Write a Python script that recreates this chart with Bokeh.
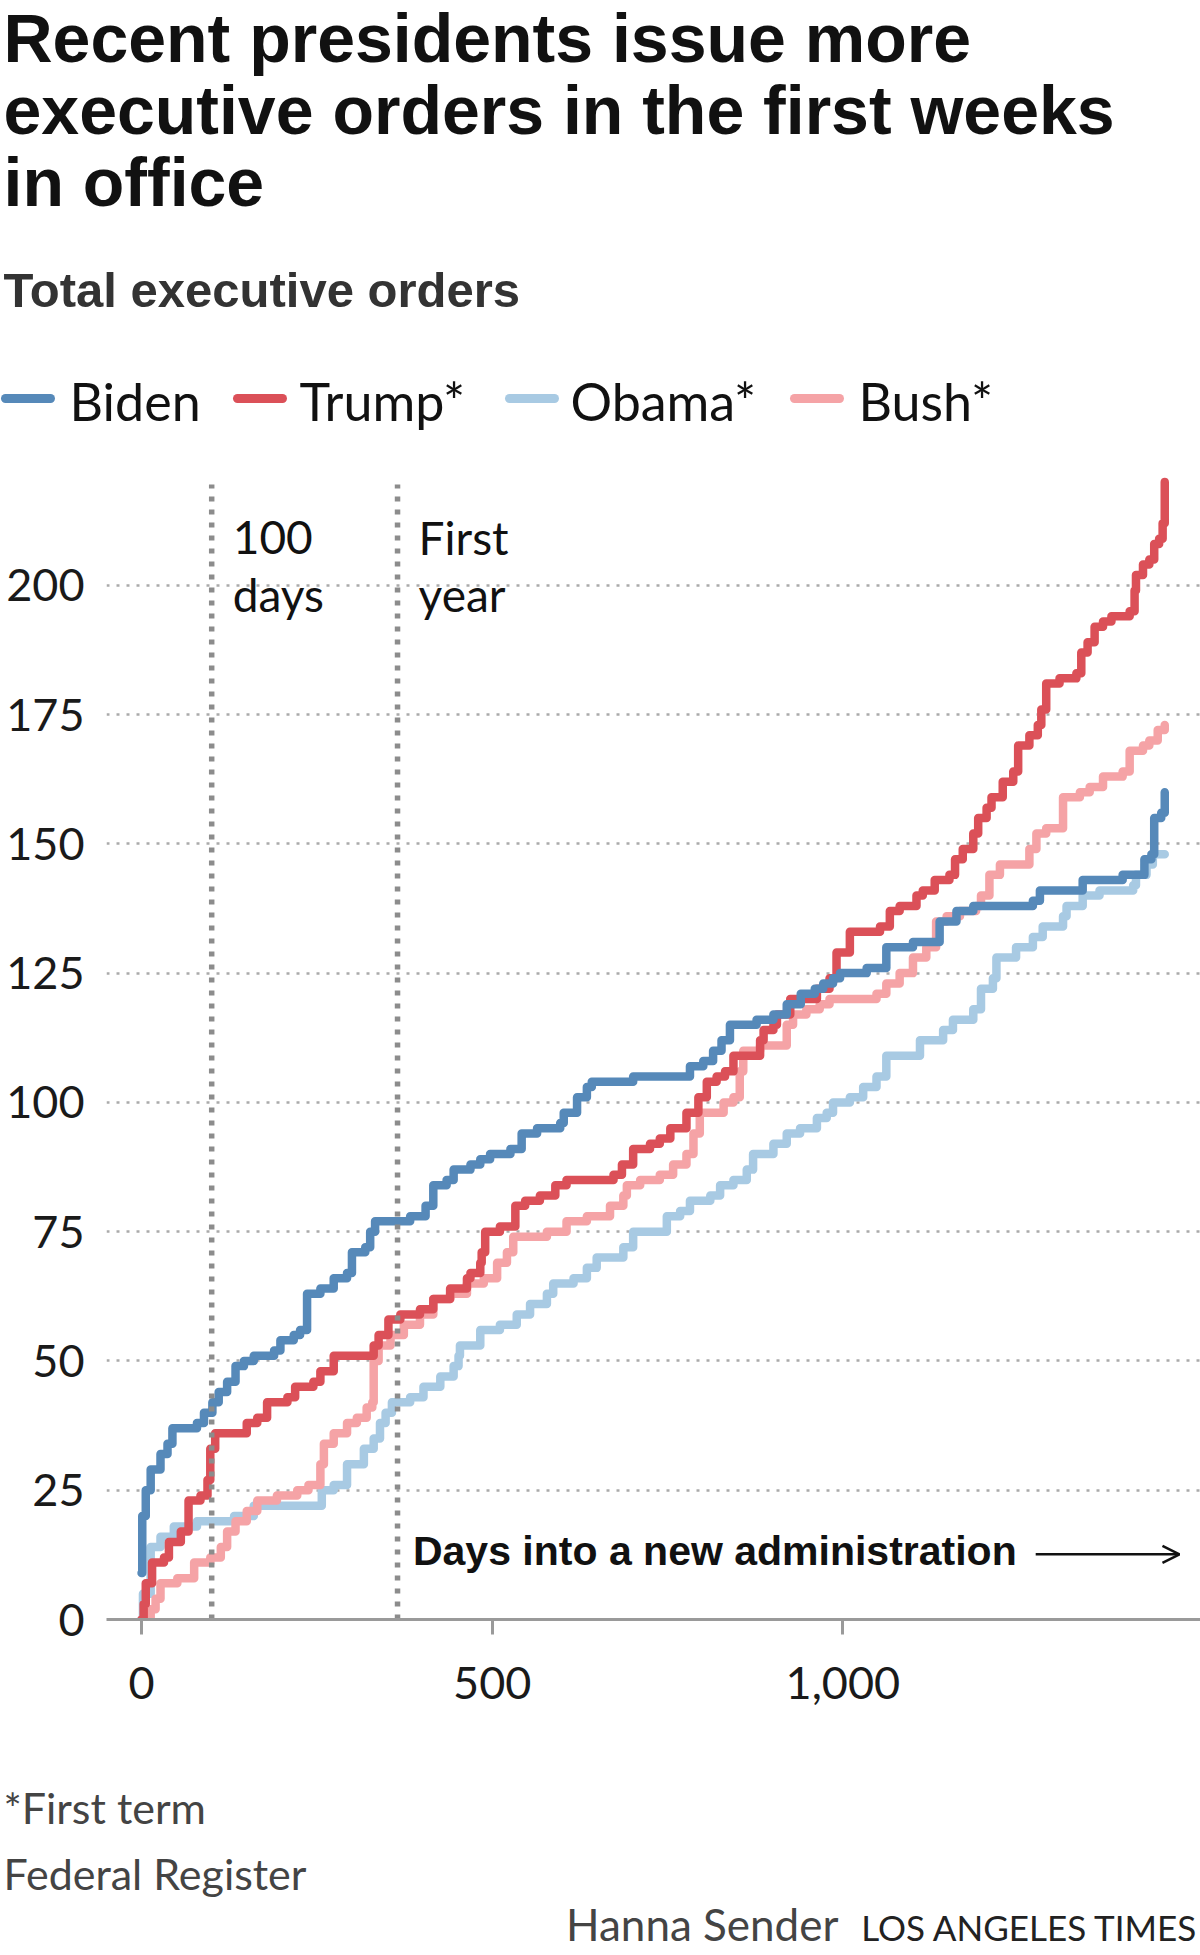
from bokeh.plotting import figure
from bokeh.layouts import column
from bokeh.models import Range1d, FixedTicker, NumeralTickFormatter, Arrow, OpenHead
from bokeh.core.properties import value
from bokeh.embed import file_html
from bokeh.resources import INLINE

# ---------------- data ----------------
series_names = ["Biden", "Trump*", "Obama*", "Bush*"]
series_colors = ["#5689b9", "#db5058", "#a8cae3", "#f5a3a6"]

biden_days = [0, 1, 6, 13, 27, 37, 44, 79, 89, 101, 110, 122, 134, 146, 160, 189, 198, 217, 226, 236,
              255, 274, 293, 300, 319, 326, 333, 383, 405, 416, 435, 445, 469, 483, 497, 526, 542, 564,
              597, 602, 621, 635, 642, 701, 782, 801, 815, 827, 839, 877, 901, 920, 940, 960, 972, 986,
              996, 1034, 1062, 1100, 1138, 1162, 1186, 1271, 1281, 1342, 1399, 1430, 1440, 1444, 1454, 1459]
biden_orders = [9, 20, 25, 29, 32, 34, 37, 38, 40, 42, 44, 46, 49, 50, 51, 52, 54, 55, 56, 63,
                64, 66, 67, 71, 72, 75, 77, 78, 80, 84, 85, 87, 88, 89, 90, 91, 94, 95,
                96, 98, 101, 103, 104, 105, 107, 108, 110, 112, 115, 116, 117, 119, 121, 122, 123, 124,
                125, 126, 130, 131, 135, 137, 138, 139, 141, 143, 144, 147, 148, 155, 156, 160]

trump_days = [0, 3, 6, 15, 32, 39, 56, 67, 84, 94, 98, 105, 150, 165, 179, 208, 219, 245, 255, 274,
              331, 338, 352, 369, 397, 416, 440, 464, 469, 483, 485, 490, 511, 533, 547, 568, 590, 606,
              673, 685, 701, 725, 739, 754, 777, 794, 806, 820, 832, 844, 882, 887, 901, 906, 925, 963,
              981, 991, 1010, 1053, 1067, 1081, 1105, 1114, 1131, 1152, 1160, 1171, 1186, 1193, 1205,
              1212, 1228, 1243, 1250, 1266, 1278, 1283, 1290, 1309, 1333, 1340, 1349, 1359, 1371, 1383,
              1409, 1416, 1418, 1428, 1437, 1444, 1451, 1456, 1459]
trump_orders = [0, 3, 7, 11, 12, 15, 17, 23, 24, 27, 33, 36, 38, 39, 42, 43, 45, 46, 48, 51,
                53, 55, 58, 59, 60, 62, 64, 66, 67, 69, 71, 75, 76, 80, 81, 82, 84, 85,
                86, 88, 91, 92, 93, 95, 98, 101, 104, 105, 106, 109, 112, 114, 115, 117, 120, 122,
                124, 129, 133, 134, 137, 138, 140, 141, 143, 144, 147, 149, 152, 155, 157,
                159, 162, 164, 169, 171, 173, 176, 181, 182, 183, 187, 189, 192, 193, 194,
                195, 199, 202, 204, 205, 208, 209, 212, 220]

obama_days = [0, 2, 13, 27, 46, 79, 132, 160, 257, 274, 293, 317, 331, 340, 348, 357, 383, 402, 426, 445,
              452, 454, 483, 511, 535, 554, 578, 587, 616, 635, 649, 687, 701, 749, 768, 782, 811, 825,
              844, 863, 872, 901, 920, 939, 963, 977, 986, 1010, 1029, 1048, 1062, 1110, 1143, 1157,
              1186, 1197, 1214, 1219, 1247, 1271, 1285, 1314, 1319, 1342, 1366, 1414, 1418, 1433, 1442, 1459]
obama_orders = [0, 5, 14, 16, 18, 19, 20, 22, 25, 26, 30, 33, 35, 38, 40, 42, 43, 45, 47, 49,
                51, 53, 56, 57, 59, 61, 63, 65, 66, 68, 70, 72, 75, 78, 79, 81, 82, 84,
                85, 87, 90, 92, 94, 95, 97, 98, 100, 101, 103, 105, 109, 112, 114, 116,
                118, 122, 124, 128, 130, 132, 134, 136, 138, 140, 141, 142, 144, 146, 148, 148]

bush_days = [0, 13, 20, 27, 51, 75, 98, 113, 122, 134, 150, 165, 193, 222, 238, 255, 260, 274, 293, 307,
             321, 329, 331, 338, 355, 374, 397, 416, 440, 464, 488, 507, 521, 530, 578, 606, 635, 668,
             687, 692, 711, 739, 758, 777, 787, 796, 830, 844, 853, 858, 882, 920, 929, 948, 967, 981,
             1048, 1062, 1081, 1100, 1119, 1133, 1148, 1167, 1190, 1197, 1209, 1224, 1266, 1276, 1290,
             1314, 1338, 1352, 1371, 1399, 1409, 1428, 1437, 1449, 1459]
bush_orders = [0, 2, 4, 7, 8, 11, 12, 14, 17, 19, 21, 23, 24, 25, 26, 30, 34, 36, 38, 39,
               41, 42, 50, 53, 55, 57, 59, 62, 63, 65, 66, 69, 71, 74, 75, 77, 78, 80,
               82, 84, 85, 86, 88, 90, 94, 98, 100, 101, 106, 110, 111, 115, 117, 118, 119, 120,
               121, 123, 125, 128, 130, 135, 136, 137, 138, 140, 144, 146, 149, 152, 153,
               159, 160, 161, 163, 164, 168, 169, 170, 172, 173]

y_ticks = [0, 25, 50, 75, 100, 125, 150, 175, 200]
x_ticks = [0, 500, 1000]
milestone_days = [100, 365]
milestone_labels = [["100", "days"], ["First", "year"]]

title_lines = ["Recent presidents issue more", "executive orders in the first weeks", "in office"]
subtitle = "Total executive orders"
x_label = "Days into a new administration"
note = "*First term"
source = "Federal Register"
credit = "Hanna Sender"
brand = "LOS ANGELES TIMES"

REG = value("Lato")
BOLD = value("Liberation Sans")
W = 1200

# ---------------- header ----------------
HEAD_H = 470
head = figure(width=W, height=HEAD_H, x_range=Range1d(0, W), y_range=Range1d(HEAD_H, 0),
              x_axis_type=None, y_axis_type=None, output_backend="svg", toolbar_location=None,
              min_border=0, outline_line_color=None, frame_align=False)
head.text(x=[3, 3, 3], y=[37, 109, 181], text=title_lines, text_font=BOLD, text_font_style="bold",
          text_font_size="68px", text_color="#111111", text_baseline="alphabetic")
head.text(x=[3], y=[289], text=[subtitle], text_font=BOLD, text_font_style="bold",
          text_font_size="49px", text_color="#333333", text_baseline="alphabetic")
sw_x0 = [5, 237, 509, 794]
lab_x = [69, 299, 570, 858]
head.segment(x0=sw_x0, x1=[x + 45 for x in sw_x0], y0=[398] * 4, y1=[398] * 4,
             line_color=series_colors, line_width=9, line_cap="round")
head.text(x=lab_x, y=[400] * 4, text=series_names, text_font=REG, text_font_size="52px",
          text_color="#111111", text_baseline="alphabetic")

# ---------------- main chart ----------------
MAIN_H = 1270
p = figure(width=W, height=MAIN_H, x_range=Range1d(-50, 1510), y_range=Range1d(0, 222.2),
           output_backend="svg", toolbar_location=None, min_border_left=106, min_border_right=0,
           min_border_top=0, min_border_bottom=121, outline_line_color=None, frame_align=False)

p.yaxis.ticker = FixedTicker(ticks=y_ticks)
p.yaxis.axis_line_color = None
p.yaxis.major_tick_line_color = None
p.yaxis.minor_tick_line_color = None
p.yaxis.major_tick_out = 0
p.yaxis.minor_tick_out = 0
p.yaxis.major_label_standoff = 22
p.yaxis.major_label_text_font = "Lato"
p.yaxis.major_label_text_font_size = "45px"
p.yaxis.major_label_text_color = "#1a1a1a"

p.xaxis.ticker = FixedTicker(ticks=x_ticks)
p.xaxis.formatter = NumeralTickFormatter(format="0,0")
p.xaxis.axis_line_color = "#9a9a9a"
p.xaxis.axis_line_width = 3
p.xaxis.major_tick_line_color = "#9a9a9a"
p.xaxis.major_tick_line_width = 3
p.xaxis.major_tick_out = 15
p.xaxis.major_tick_in = 0
p.xaxis.minor_tick_line_color = None
p.xaxis.minor_tick_out = 0
p.xaxis.major_label_standoff = 32
p.xaxis.major_label_text_font = "Lato"
p.xaxis.major_label_text_font_size = "45px"
p.xaxis.major_label_text_color = "#1a1a1a"

p.xgrid.visible = False
p.ygrid.ticker = FixedTicker(ticks=y_ticks[1:])
p.ygrid.grid_line_color = "#aaaaaa"
p.ygrid.grid_line_width = 2.5
p.ygrid.grid_line_dash = "3 7"

series = [(obama_days, obama_orders, series_colors[2]),
          (bush_days, bush_orders, series_colors[3]),
          (trump_days, trump_orders, series_colors[1]),
          (biden_days, biden_orders, series_colors[0])]
for d, o, c in series:
    p.step(d, o, mode="after", line_color=c, line_width=8.5, line_cap="round", line_join="round")

p.segment(x0=milestone_days, x1=milestone_days, y0=[0, 0], y1=[219.5, 219.5],
          line_color="#8c8c8c", line_width=5.5, line_dash="5 8")

for md, (l1, l2) in zip(milestone_days, milestone_labels):
    p.text(x=[md + 30], y=[209.3], text=[l1], text_font=REG, text_font_size="46px",
           text_color="#111111", text_baseline="alphabetic")
    p.text(x=[md + 30], y=[198.3], text=[l2], text_font=REG, text_font_size="46px",
           text_color="#111111", text_baseline="alphabetic")

p.text(x=[387], y=[13.2], text=[x_label], text_font=BOLD, text_font_style="bold",
       text_font_size="41px", text_color="#111111", text_baseline="alphabetic")
p.add_layout(Arrow(end=OpenHead(size=17, line_width=2.5, line_color="#111111"),
                   x_start=1275, y_start=12.6, x_end=1480, y_end=12.6,
                   line_width=2.5, line_color="#111111"))

# ---------------- footer ----------------
FOOT_H = 1955 - HEAD_H - MAIN_H
foot = figure(width=W, height=FOOT_H, x_range=Range1d(0, W), y_range=Range1d(FOOT_H, 0),
              x_axis_type=None, y_axis_type=None, output_backend="svg", toolbar_location=None,
              min_border=0, outline_line_color=None, frame_align=False)
foot.text(x=[3, 3], y=[67, 133], text=[note, source], text_font=REG, text_font_size="43px",
          text_color="#444444", text_baseline="alphabetic")
foot.text(x=[838], y=[183], text=[credit], text_font=REG, text_font_size="44px",
          text_color="#444444", text_baseline="alphabetic", text_align="right")
foot.text(x=[1198], y=[186], text=[brand], text_font=REG, text_font_size="35px",
          text_color="#222222", text_baseline="alphabetic", text_align="right")

layout = column(head, p, foot, spacing=0)
open("out.html", "w").write(file_html(layout, INLINE))
